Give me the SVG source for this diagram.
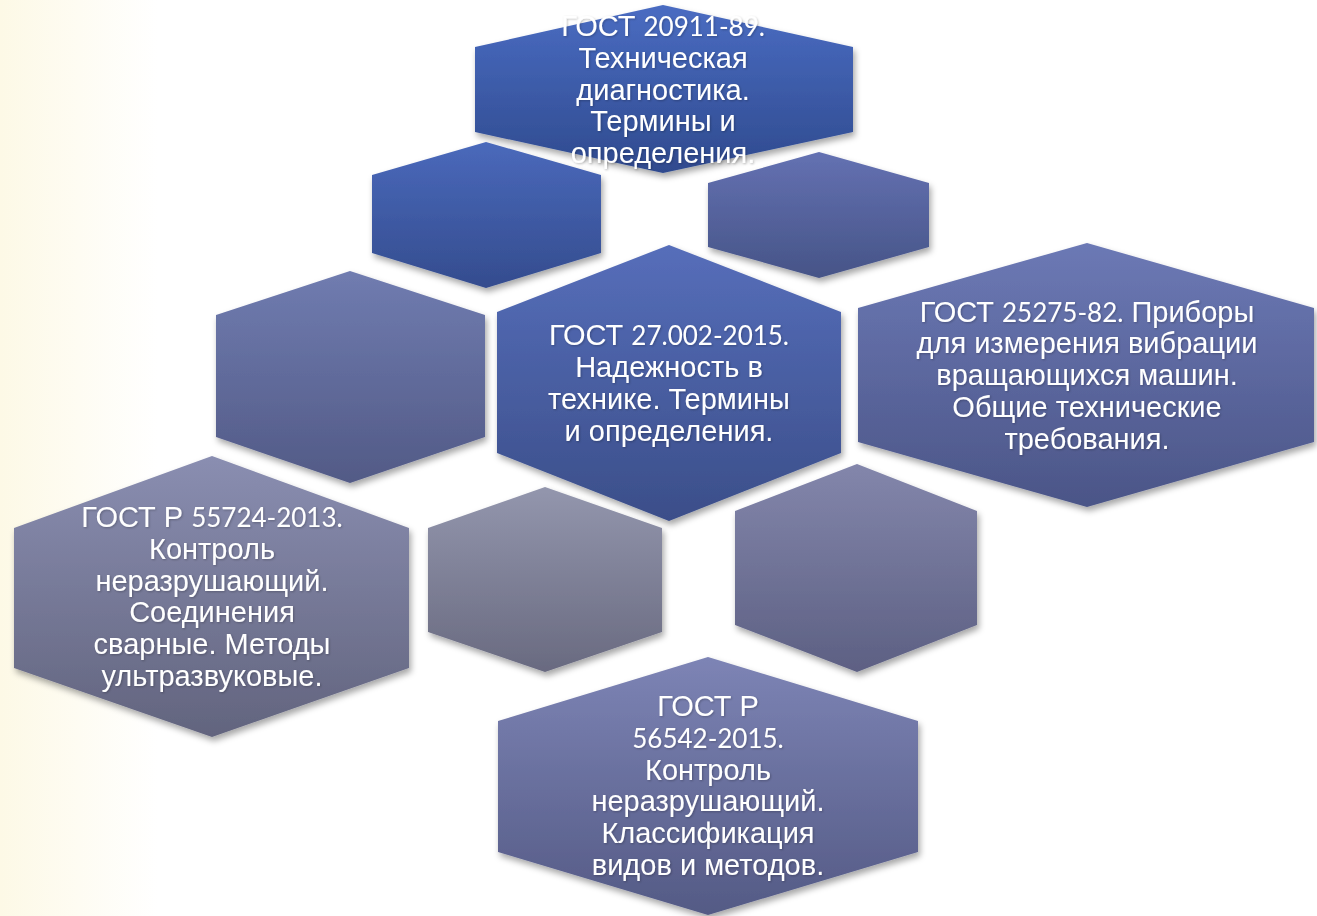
<svg xmlns="http://www.w3.org/2000/svg" width="1317" height="916" viewBox="0 0 1317 916">
<defs>
<linearGradient id="bg" x1="0" y1="0" x2="1" y2="0">
<stop offset="0" stop-color="#fdf9e6"/>
<stop offset="0.12" stop-color="#ffffff"/>
</linearGradient>
<filter id="sh" x="-10%" y="-10%" width="125%" height="130%">
<feDropShadow dx="2" dy="4" stdDeviation="3" flood-color="#000" flood-opacity="0.35"/>
</filter>
<filter id="tsh" x="-10%" y="-10%" width="120%" height="130%">
<feDropShadow dx="1" dy="1" stdDeviation="0.8" flood-color="#000" flood-opacity="0.25"/>
</filter>
<linearGradient id="g1" x1="0" y1="0" x2="0" y2="1"><stop offset="0" stop-color="#4a6cc2"/><stop offset="1" stop-color="#2f4a8e"/></linearGradient>
<linearGradient id="g2" x1="0" y1="0" x2="0" y2="1"><stop offset="0" stop-color="#4a69bb"/><stop offset="1" stop-color="#344c8e"/></linearGradient>
<linearGradient id="g3" x1="0" y1="0" x2="0" y2="1"><stop offset="0" stop-color="#6471b2"/><stop offset="1" stop-color="#465487"/></linearGradient>
<linearGradient id="g4" x1="0" y1="0" x2="0" y2="1"><stop offset="0" stop-color="#566eba"/><stop offset="1" stop-color="#3b4e89"/></linearGradient>
<linearGradient id="g5" x1="0" y1="0" x2="0" y2="1"><stop offset="0" stop-color="#707cb0"/><stop offset="1" stop-color="#525a86"/></linearGradient>
<linearGradient id="g6" x1="0" y1="0" x2="0" y2="1"><stop offset="0" stop-color="#6c79b5"/><stop offset="1" stop-color="#4b5587"/></linearGradient>
<linearGradient id="g7" x1="0" y1="0" x2="0" y2="1"><stop offset="0" stop-color="#8a8eb1"/><stop offset="1" stop-color="#62647e"/></linearGradient>
<linearGradient id="g8" x1="0" y1="0" x2="0" y2="1"><stop offset="0" stop-color="#9396ad"/><stop offset="1" stop-color="#696a80"/></linearGradient>
<linearGradient id="g9" x1="0" y1="0" x2="0" y2="1"><stop offset="0" stop-color="#8386ab"/><stop offset="1" stop-color="#5d6083"/></linearGradient>
<linearGradient id="g10" x1="0" y1="0" x2="0" y2="1"><stop offset="0" stop-color="#7d84b5"/><stop offset="1" stop-color="#545a85"/></linearGradient>
</defs>
<style>
.hex{filter:url(#sh);}
.t{font-family:"Liberation Sans",Arial,sans-serif;font-size:29px;fill:#ffffff;text-anchor:middle;filter:url(#tsh);}
.n{font-family:Lato,"Liberation Sans",sans-serif;font-size:26px;}
</style>
<rect x="0" y="0" width="1317" height="916" fill="url(#bg)"/>

<g id="hex-top">
<polygon class="hex" fill="url(#g1)" points="475,47 663,5 853,47 853,132 663,173 475,132"/>
<text class="t"><tspan x="663" y="36">ГОСТ <tspan class="n">20911-89.</tspan></tspan><tspan x="663" y="68">Техническая</tspan><tspan x="663" y="100">диагностика.</tspan><tspan x="663" y="131">Термины и</tspan><tspan x="663" y="163">определения.</tspan></text>
</g>

<g id="hex-upper-left">
<polygon class="hex" fill="url(#g2)" points="372,175 486,142 601,175 601,253 486,288 372,253"/>
</g>

<g id="hex-upper-right">
<polygon class="hex" fill="url(#g3)" points="708,183 819,152 929,183 929,247 819,278 708,247"/>
</g>

<g id="hex-center">
<polygon class="hex" fill="url(#g4)" points="497,312 669,245 841,312 841,453 669,521 497,453"/>
<text class="t"><tspan x="669" y="345">ГОСТ <tspan class="n">27.002-2015.</tspan></tspan><tspan x="669" y="377">Надежность в</tspan><tspan x="669" y="409">технике. Термины</tspan><tspan x="669" y="441">и определения.</tspan></text>
</g>

<g id="hex-mid-left">
<polygon class="hex" fill="url(#g5)" points="216,315 350,271 485,315 485,437 350,483 216,437"/>
</g>

<g id="hex-right">
<polygon class="hex" fill="url(#g6)" points="858,308 1087,243 1314,308 1314,442 1087,507 858,442"/>
<text class="t"><tspan x="1087" y="322">ГОСТ <tspan class="n">25275-82.</tspan> Приборы</tspan><tspan x="1087" y="353">для измерения вибрации</tspan><tspan x="1087" y="385">вращающихся машин.</tspan><tspan x="1087" y="417">Общие технические</tspan><tspan x="1087" y="449">требования.</tspan></text>
</g>

<g id="hex-lower-left">
<polygon class="hex" fill="url(#g7)" points="14,528 212,456 409,528 409,668 212,737 14,668"/>
<text class="t"><tspan x="212" y="527">ГОСТ Р <tspan class="n">55724-2013.</tspan></tspan><tspan x="212" y="559">Контроль</tspan><tspan x="212" y="591">неразрушающий.</tspan><tspan x="212" y="622">Соединения</tspan><tspan x="212" y="654">сварные. Методы</tspan><tspan x="212" y="686">ультразвуковые.</tspan></text>
</g>

<g id="hex-lower-mid">
<polygon class="hex" fill="url(#g8)" points="428,528 545,487 662,528 662,632 545,672 428,632"/>
</g>

<g id="hex-lower-right">
<polygon class="hex" fill="url(#g9)" points="735,511 857,464 977,511 977,625 857,672 735,625"/>
</g>

<g id="hex-bottom">
<polygon class="hex" fill="url(#g10)" points="498,721 708,657 918,721 918,852 708,915 498,852"/>
<text class="t"><tspan x="708" y="716">ГОСТ Р</tspan><tspan x="708" y="748" class="n">56542-2015.</tspan><tspan x="708" y="780">Контроль</tspan><tspan x="708" y="811">неразрушающий.</tspan><tspan x="708" y="843">Классификация</tspan><tspan x="708" y="875">видов и методов.</tspan></text>
</g>
</svg>
